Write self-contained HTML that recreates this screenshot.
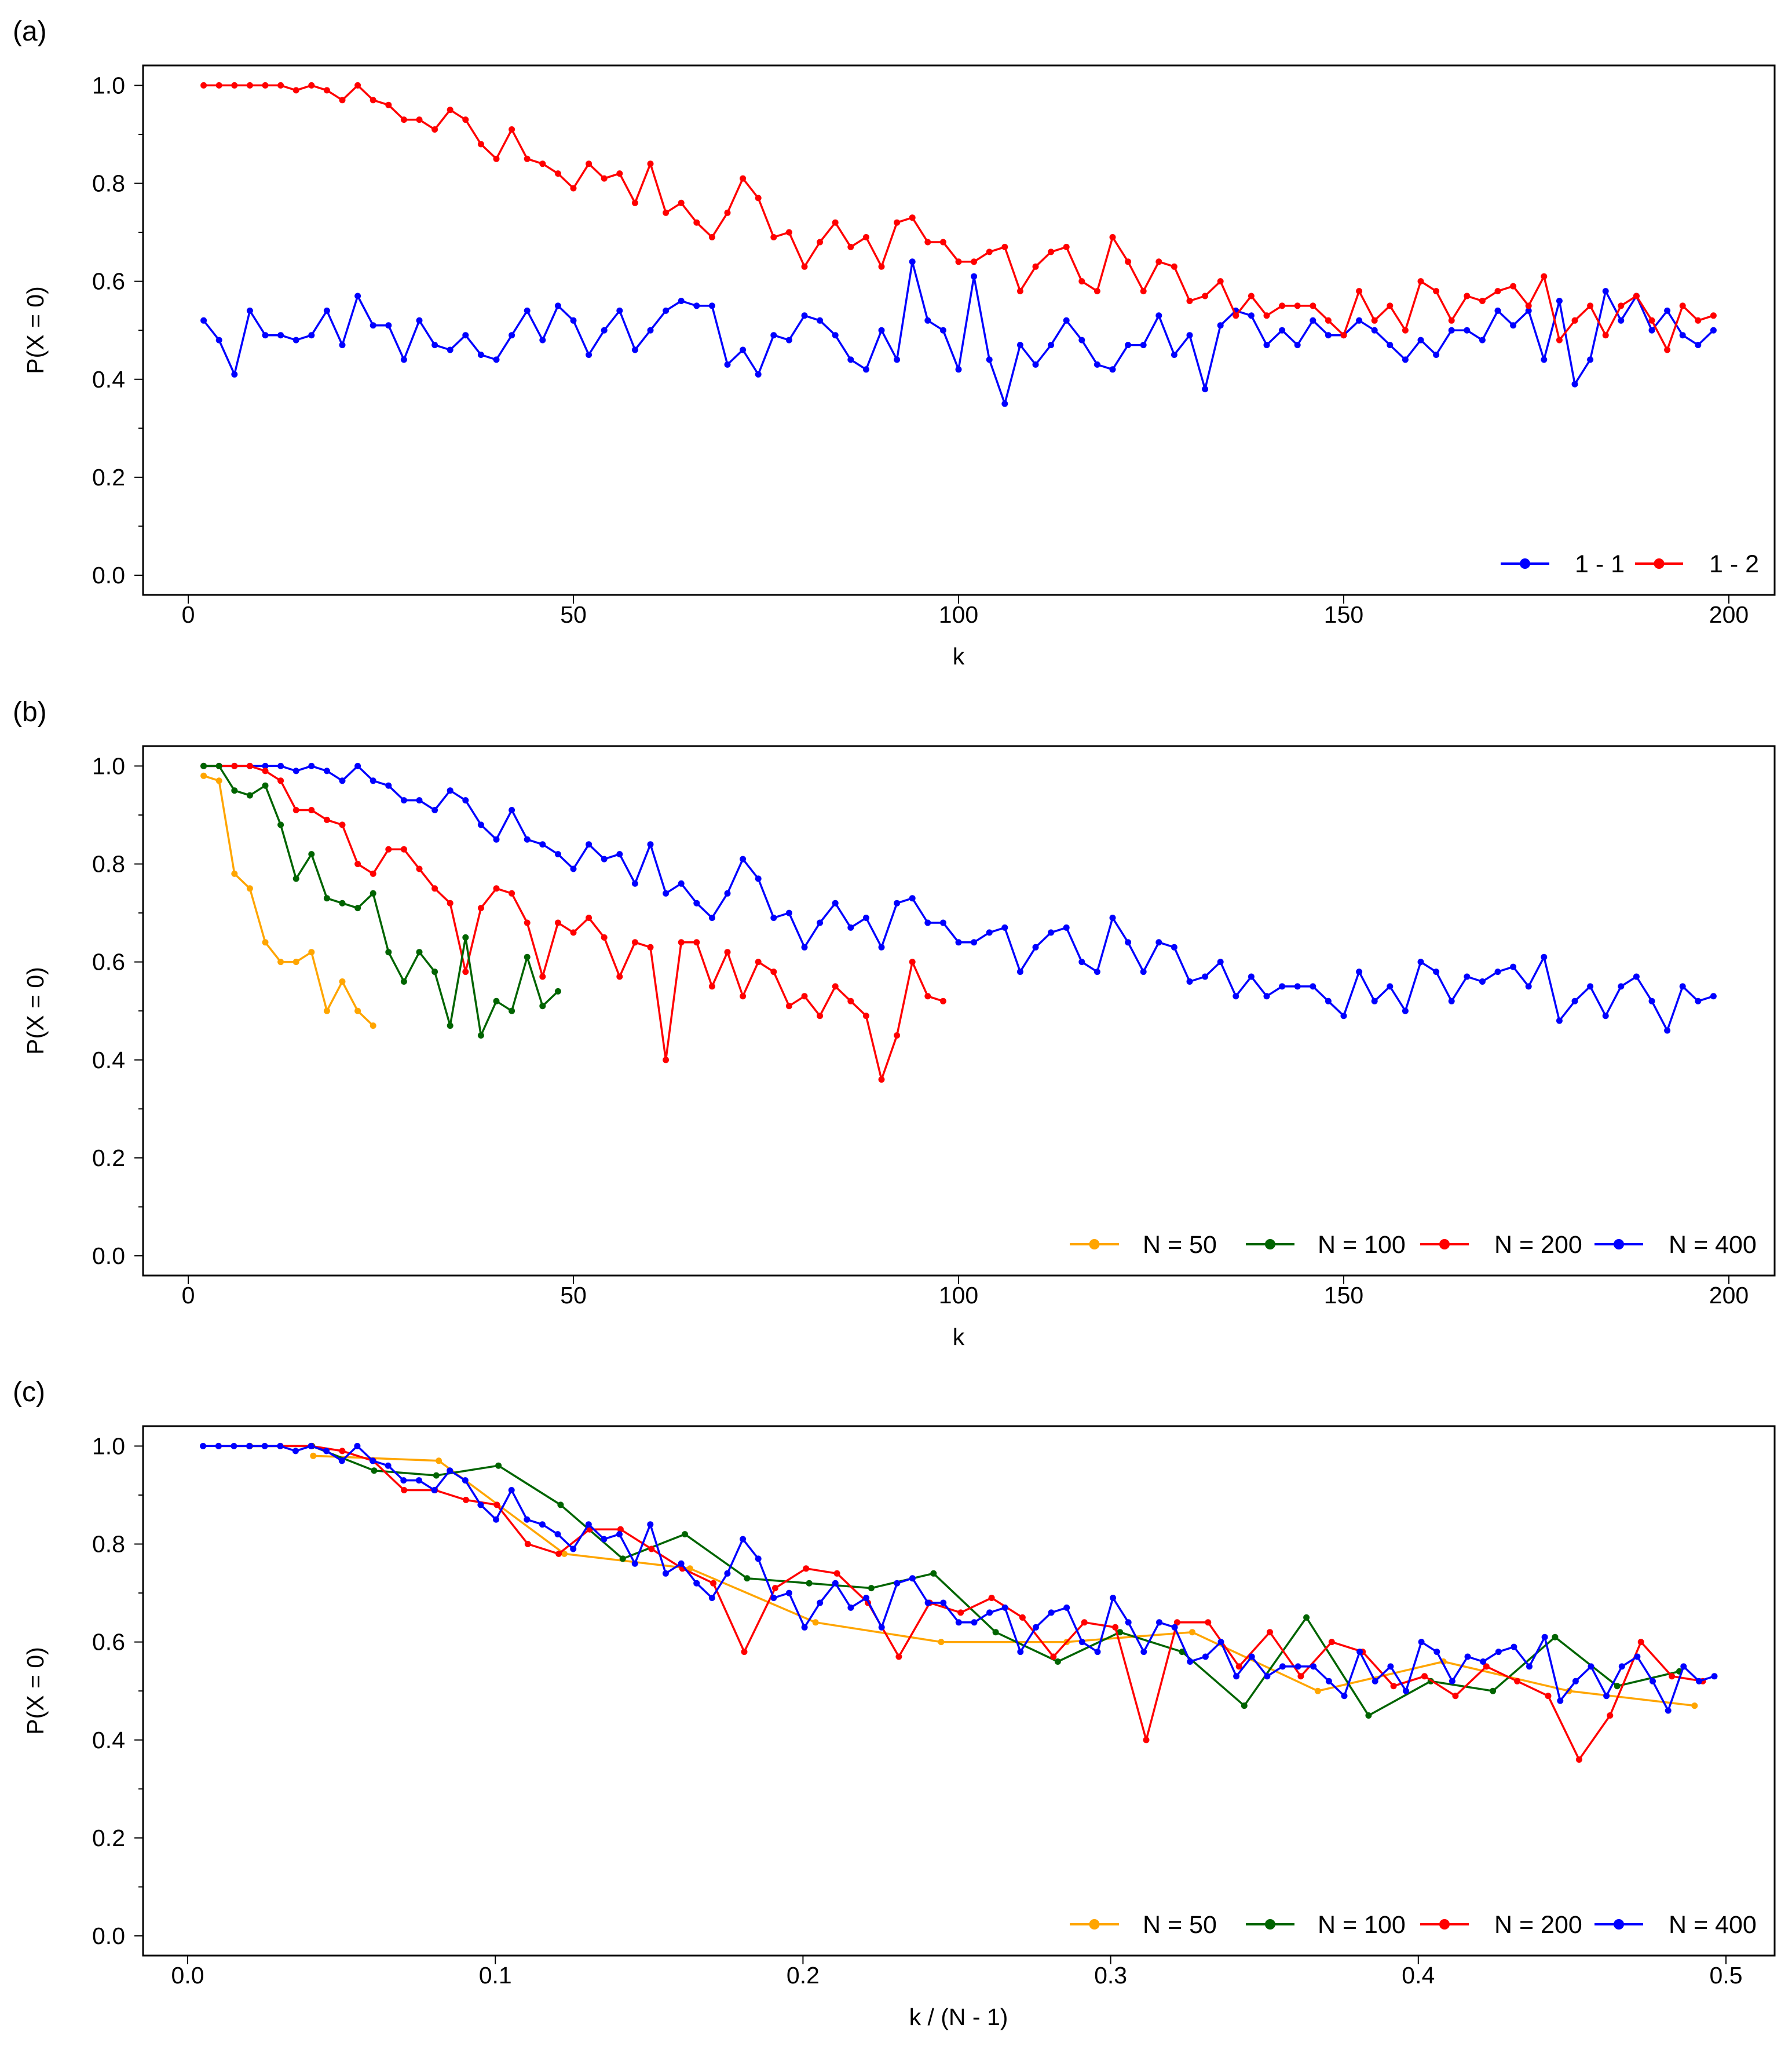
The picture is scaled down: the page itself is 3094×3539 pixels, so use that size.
<!DOCTYPE html>
<html>
<head>
<meta charset="utf-8">
<style>
  html, body { margin: 0; padding: 0; background: #fff; }
  svg { display: block; }
  text { font-family: "Liberation Sans", Arial, sans-serif; fill: #000; }
</style>
</head>
<body>
<svg id="fig" width="3094" height="3539" viewBox="0 0 3094 3539" xmlns="http://www.w3.org/2000/svg"></svg>
<script>
// ---- data ----
const kEven400 = [];
for (let k = 2; k <= 198; k += 2) kEven400.push(k);
const series11 = [0.52,0.48,0.41,0.54,0.49,0.49,0.48,0.49,0.54,0.47,0.57,0.51,0.51,0.44,0.52,0.47,0.46,0.49,0.45,0.44,0.49,0.54,0.48,0.55,0.52,0.45,0.50,0.54,0.46,0.50,0.54,0.56,0.55,0.55,
  0.43,0.46,0.41,0.49,0.48,0.53,0.52,0.49,0.44,0.42,0.50,0.44,0.64,0.52,0.50,0.42,0.61,0.44,0.35,0.47,0.43,0.47,0.52,0.48,0.43,0.42,0.47,0.47,0.53,0.45,0.49,0.38,0.51,
  0.54,0.53,0.47,0.50,0.47,0.52,0.49,0.49,0.52,0.50,0.47,0.44,0.48,0.45,0.50,0.50,0.48,0.54,0.51,0.54,0.44,0.56,0.39,0.44,0.58,0.52,0.57,0.50,0.54,0.49,0.47,0.50];
const seriesN400 = [1,1,1,1,1,1,0.99,1,0.99,0.97,1,0.97,0.96,0.93,0.93,0.91,0.95,0.93,0.88,0.85,0.91,0.85,0.84,0.82,0.79,0.84,0.81,0.82,0.76,0.84,0.74,0.76,0.72,0.69,
  0.74,0.81,0.77,0.69,0.70,0.63,0.68,0.72,0.67,0.69,0.63,0.72,0.73,0.68,0.68,0.64,0.64,0.66,0.67,0.58,0.63,0.66,0.67,0.60,0.58,0.69,0.64,0.58,0.64,0.63,0.56,0.57,0.60,
  0.53,0.57,0.53,0.55,0.55,0.55,0.52,0.49,0.58,0.52,0.55,0.50,0.60,0.58,0.52,0.57,0.56,0.58,0.59,0.55,0.61,0.48,0.52,0.55,0.49,0.55,0.57,0.52,0.46,0.55,0.52,0.53];
const seriesN200 = [1,1,1,1,0.99,0.97,0.91,0.91,0.89,0.88,0.80,0.78,0.83,0.83,0.79,0.75,0.72,0.58,0.71,0.75,0.74,0.68,0.57,0.68,0.66,0.69,
  0.65,0.57,0.64,0.63,0.40,0.64,0.64,0.55,0.62,0.53,0.60,0.58,0.51,0.53,0.49,0.55,0.52,0.49,0.36,0.45,0.60,0.53,0.52];
const seriesN100 = [1,1,0.95,0.94,0.96,0.88,0.77,0.82,0.73,0.72,0.71,0.74,0.62,0.56,0.62,0.58,0.47,0.65,0.45,0.52,0.50,0.61,0.51,0.54];
const seriesN50 = [0.98,0.97,0.78,0.75,0.64,0.60,0.60,0.62,0.50,0.56,0.50,0.47];
const yTicks = [0.0,0.2,0.4,0.6,0.8,1.0];
const yTickLabels = ["0.0","0.2","0.4","0.6","0.8","1.0"];
const kTicks = [0,50,100,150,200];
const ratioTicks = [0.0,0.1,0.2,0.3,0.4,0.5];
const ratioTickLabels = ["0.0","0.1","0.2","0.3","0.4","0.5"];

// ---- layout ----
const NS = "http://www.w3.org/2000/svg";
const svg = document.getElementById("fig");
const FL = 247, FR = 3064;
const panels = [
  { off: 0, id: "a" },
  { off: 1175, id: "b" },
  { off: 2349, id: "c" }
];
function mk(tag, attrs, parent) {
  const e = document.createElementNS(NS, tag);
  for (const k in attrs) e.setAttribute(k, attrs[k]);
  (parent || svg).appendChild(e);
  return e;
}
function yScale(off) { return v => 993 + off - v * 845.6; }
const xK = k => 325 + k * 13.3;
const xR = r => 324 + r * 5312;

function drawSeries(g, xs, ys, color, xf, yf, name) {
  const sg = mk("g", {}, g);
  
  
  let d = "";
  for (let i = 0; i < ys.length; i++) {
    d += (i ? "L" : "M") + xf(xs[i]).toFixed(1) + "," + yf(ys[i]).toFixed(1);
  }
  const p = mk("path", { d: d, fill: "none", stroke: color, "stroke-width": 3.5, "stroke-linejoin": "round" }, sg);
  
  
  for (let i = 0; i < ys.length; i++) {
    const c = mk("circle", { cx: xf(xs[i]).toFixed(1), cy: yf(ys[i]).toFixed(1), r: 5.5, fill: color }, sg);
    
    
  }
}

function drawLegend(g, off, items) {
  const lg = mk("g", {}, g);
  
  
  const y = 973 + off;
  items.forEach(it => {
    const eg = mk("g", {}, lg);
    
    
    mk("line", { x1: it.x1, x2: it.x2, y1: y, y2: y, stroke: it.color, "stroke-width": 4 }, eg);
    mk("circle", { cx: (it.x1 + it.x2) / 2, cy: y, r: 9, fill: it.color }, eg);
    const t = mk("text", { x: it.tx, y: y + 15, "font-size": 43 }, eg);
    t.textContent = it.label;
  });
}

panels.forEach((P, pi) => {
  const off = P.off;
  const g = mk("g", {});
  
  
  const yf = yScale(off);
  const top = 113 + off, bot = 1027 + off;

  const lab = mk("text", { x: 22, y: 70 + off, "font-size": 48 }, g);
  
  
  lab.textContent = "(" + P.id + ")";

  // y axis ticks
  const ya = mk("g", {}, g);
  
  
  for (let v = 0; v <= 10; v++) {
    const yy = yf(v / 10);
    const len = v % 2 === 0 ? 15 : 8;
    mk("line", { x1: FL - len, x2: FL, y1: yy, y2: yy, stroke: "#000", "stroke-width": 2 }, ya);
  }
  yTicks.forEach((v, i) => {
    const t = mk("text", { x: 216, y: yf(v) + 14, "font-size": 41, "text-anchor": "end" }, ya);
    t.textContent = yTickLabels[i];
  });
  const yt = mk("text", { x: 0, y: 0, "font-size": 41, "text-anchor": "middle", transform: "translate(75," + (570 + off) + ") rotate(-90)" }, g);
  
  
  yt.textContent = "P(X = 0)";

  // x axis
  const xa = mk("g", {}, g);
  
  
  if (pi < 2) {
    kTicks.forEach(v => {
      const xx = xK(v);
      mk("line", { x1: xx, x2: xx, y1: bot, y2: bot + 15, stroke: "#000", "stroke-width": 2 }, xa);
      const t = mk("text", { x: xx, y: bot + 48, "font-size": 41, "text-anchor": "middle" }, xa);
      t.textContent = String(v);
    });
  } else {
    ratioTicks.forEach((v, i) => {
      const xx = xR(v);
      mk("line", { x1: xx, x2: xx, y1: bot, y2: bot + 15, stroke: "#000", "stroke-width": 2 }, xa);
      const t = mk("text", { x: xx, y: bot + 48, "font-size": 41, "text-anchor": "middle" }, xa);
      t.textContent = ratioTickLabels[i];
    });
  }
  const xt = mk("text", { x: pi < 2 ? 1655 : 1655, y: bot + 120, "font-size": 41, "text-anchor": "middle" }, g);
  
  
  xt.textContent = pi < 2 ? "k" : "k / (N - 1)";

  // series
  const plot = mk("g", {}, g);
  
  
  if (pi === 0) {
    drawSeries(plot, kEven400, series11, "#0000ff", xK, yf, "series-1-1");
    drawSeries(plot, kEven400, seriesN400, "#ff0000", xK, yf, "series-1-2");
    drawLegend(g, off, [
      { x1: 2591, x2: 2675, tx: 2719, color: "#0000ff", label: "1 - 1" },
      { x1: 2823, x2: 2906, tx: 2951, color: "#ff0000", label: "1 - 2" }
    ]);
  } else {
    const k50 = kEven400.slice(0, seriesN50.length);
    const k100 = kEven400.slice(0, seriesN100.length);
    const k200 = kEven400.slice(0, seriesN200.length);
    if (pi === 1) {
      drawSeries(plot, kEven400, seriesN400, "#0000ff", xK, yf, "series-n400");
      drawSeries(plot, k200, seriesN200, "#ff0000", xK, yf, "series-n200");
      drawSeries(plot, k100, seriesN100, "#006400", xK, yf, "series-n100");
      drawSeries(plot, k50, seriesN50, "#ffa500", xK, yf, "series-n50");
    } else {
      drawSeries(plot, k50.map(k => k / 49), seriesN50, "#ffa500", xR, yf, "series-n50");
      drawSeries(plot, k100.map(k => k / 99), seriesN100, "#006400", xR, yf, "series-n100");
      drawSeries(plot, k200.map(k => k / 199), seriesN200, "#ff0000", xR, yf, "series-n200");
      drawSeries(plot, kEven400.map(k => k / 399), seriesN400, "#0000ff", xR, yf, "series-n400");
    }
    drawLegend(g, off, [
      { x1: 1847, x2: 1932, tx: 1973, color: "#ffa500", label: "N = 50" },
      { x1: 2151, x2: 2235, tx: 2275, color: "#006400", label: "N = 100" },
      { x1: 2452, x2: 2536, tx: 2580, color: "#ff0000", label: "N = 200" },
      { x1: 2753, x2: 2837, tx: 2881, color: "#0000ff", label: "N = 400" }
    ]);
  }

  const fr = mk("rect", { x: FL, y: top, width: FR - FL, height: bot - top, fill: "none", stroke: "#000", "stroke-width": 3 }, g);
  
  
});
</script>
</body>
</html>
